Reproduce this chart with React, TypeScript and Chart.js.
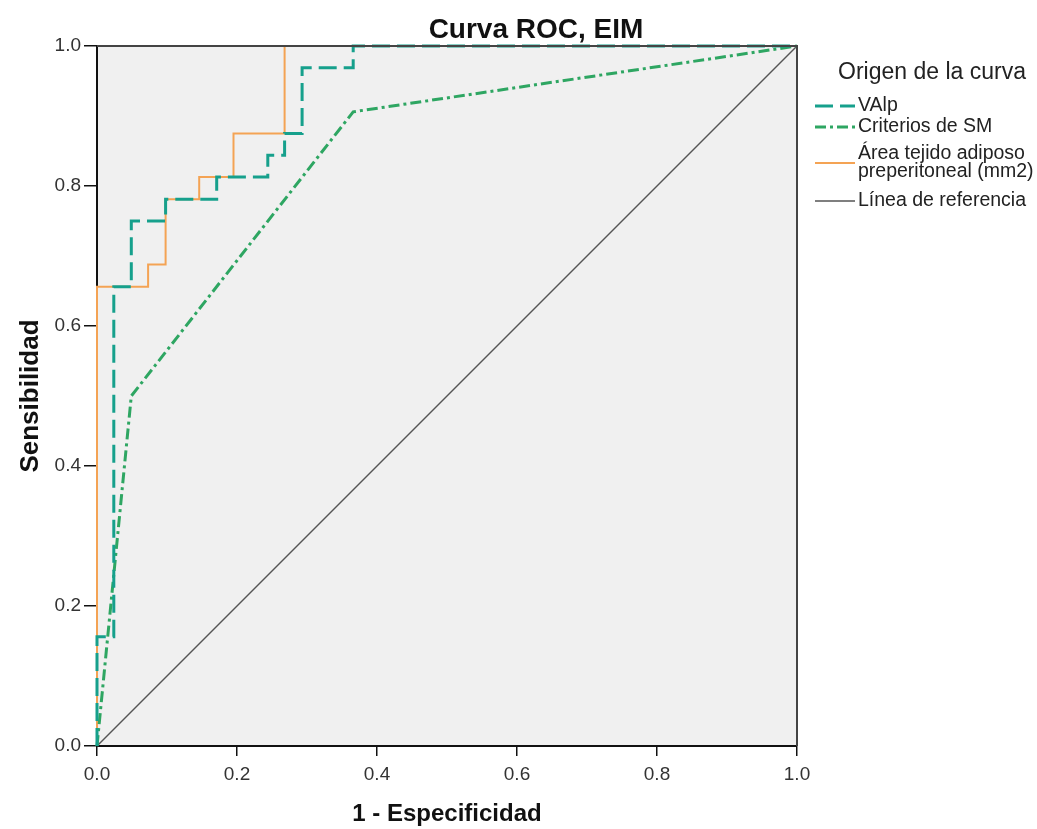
import React, { useEffect, useRef } from 'react';
import { Chart, registerables } from 'chart.js';

Chart.register(...registerables);

// ---- Data ----
const valpFpr = [0, 0, 0.024, 0.024, 0.049, 0.049, 0.098, 0.098, 0.171, 0.171, 0.244, 0.244, 0.268, 0.268, 0.293, 0.293, 0.366, 0.366, 1];
const valpSens = [0, 0.156, 0.156, 0.656, 0.656, 0.75, 0.75, 0.781, 0.781, 0.813, 0.813, 0.844, 0.844, 0.875, 0.875, 0.969, 0.969, 1, 1];

const criteriosFpr = [0, 0.049, 0.366, 1];
const criteriosSens = [0, 0.5, 0.906, 1];

const areaFpr = [0, 0, 0.073, 0.073, 0.098, 0.098, 0.146, 0.146, 0.195, 0.195, 0.268, 0.268, 1];
const areaSens = [0, 0.656, 0.656, 0.688, 0.688, 0.781, 0.781, 0.813, 0.813, 0.875, 0.875, 1, 1];

const refFpr = [0, 1];
const refSens = [0, 1];

const tickValues = [0, 0.2, 0.4, 0.6, 0.8, 1.0];

const chartTitle = 'Curva ROC, EIM';
const xTitle = '1 - Especificidad';
const yTitle = 'Sensibilidad';
const legendTitle = 'Origen de la curva';
const seriesLabels = ['VAlp', 'Criterios de SM', ['Área tejido adiposo', 'preperitoneal (mm2)'], 'Línea de referencia'];

const COLORS = {
  valp: '#16a08c',
  criterios: '#2ea662',
  area: '#f4a354',
  ref: '#555555',
};

const DASH_VALP = [18, 7];
const DASH_CRIT = [11, 4, 3, 4];

const FONT = '"Liberation Sans", Arial, sans-serif';

const toPoints = (xs: number[], ys: number[]) => xs.map((x, i) => ({ x, y: ys[i] }));

const decorPlugin = {
  id: 'decor',
  beforeDraw(chart: any) {
    const { ctx, chartArea: a, width, height } = chart;
    ctx.save();
    ctx.fillStyle = '#ffffff';
    ctx.fillRect(0, 0, width, height);
    ctx.fillStyle = '#f0f0f0';
    ctx.fillRect(a.left, a.top, a.right - a.left, a.bottom - a.top);
    ctx.restore();
  },
  afterDraw(chart: any) {
    const { ctx, chartArea: a } = chart;
    ctx.save();
    // frame top/right
    ctx.strokeStyle = '#444444';
    ctx.lineWidth = 2;
    ctx.beginPath();
    ctx.moveTo(a.left, a.top);
    ctx.lineTo(a.right, a.top);
    ctx.lineTo(a.right, a.bottom);
    ctx.stroke();

    // chart title
    ctx.fillStyle = '#111111';
    ctx.textAlign = 'center';
    ctx.textBaseline = 'middle';
    ctx.font = `bold 28px ${FONT}`;
    ctx.fillText(chartTitle, 536, 30);

    // x title
    ctx.font = `bold 24px ${FONT}`;
    ctx.fillText(xTitle, (a.left + a.right) / 2, 814);

    // y title
    ctx.save();
    ctx.font = `bold 26px ${FONT}`;
    ctx.translate(31, (a.top + a.bottom) / 2);
    ctx.rotate(-Math.PI / 2);
    ctx.fillText(yTitle, 0, 0);
    ctx.restore();

    // legend
    ctx.textAlign = 'left';
    ctx.fillStyle = '#222222';
    ctx.font = `23px ${FONT}`;
    ctx.fillText(legendTitle, 838, 73);

    ctx.font = `19.5px ${FONT}`;
    const sx0 = 815;
    const sx1 = 855;
    const tx = 858;
    const drawSample = (y: number, color: string, dash: number[], lw: number) => {
      ctx.save();
      ctx.strokeStyle = color;
      ctx.lineWidth = lw;
      ctx.setLineDash(dash);
      ctx.beginPath();
      ctx.moveTo(sx0, y);
      ctx.lineTo(sx1, y);
      ctx.stroke();
      ctx.restore();
    };
    drawSample(106, COLORS.valp, DASH_VALP, 3);
    ctx.fillText(seriesLabels[0] as string, tx, 106);
    drawSample(127, COLORS.criterios, DASH_CRIT, 3);
    ctx.fillText(seriesLabels[1] as string, tx, 127);
    drawSample(163, COLORS.area, [], 2);
    const areaLines = seriesLabels[2] as string[];
    ctx.fillText(areaLines[0], tx, 154);
    ctx.fillText(areaLines[1], tx, 172);
    drawSample(201, COLORS.ref, [], 1.5);
    ctx.fillText(seriesLabels[3] as string, tx, 201);
    ctx.restore();
  },
};

export default function App() {
  const canvasRef = useRef<HTMLCanvasElement | null>(null);

  useEffect(() => {
    if (!canvasRef.current) return;
    const chart = new Chart(canvasRef.current, {
      type: 'scatter',
      data: {
        datasets: [
          {
            label: 'VAlp',
            data: toPoints(valpFpr, valpSens),
            showLine: true,
            borderColor: COLORS.valp,
            borderWidth: 3,
            borderDash: DASH_VALP,
            pointRadius: 0,
            tension: 0,
            clip: 6,
          },
          {
            label: 'Criterios de SM',
            data: toPoints(criteriosFpr, criteriosSens),
            showLine: true,
            borderColor: COLORS.criterios,
            borderWidth: 3,
            borderDash: DASH_CRIT,
            pointRadius: 0,
            tension: 0,
            clip: 6,
          },
          {
            label: 'Área tejido adiposo preperitoneal (mm2)',
            data: toPoints(areaFpr, areaSens),
            showLine: true,
            borderColor: COLORS.area,
            borderWidth: 2,
            pointRadius: 0,
            tension: 0,
            clip: 6,
          },
          {
            label: 'Línea de referencia',
            data: toPoints(refFpr, refSens),
            showLine: true,
            borderColor: COLORS.ref,
            borderWidth: 1.5,
            pointRadius: 0,
            tension: 0,
            clip: 6,
          },
        ],
      },
      options: {
        animation: false,
        responsive: true,
        maintainAspectRatio: false,
        layout: { padding: { top: 46, right: 240, bottom: 0, left: 0 } },
        plugins: {
          legend: { display: false },
          title: { display: false },
          tooltip: { enabled: false },
        },
        scales: {
          x: {
            type: 'linear',
            min: 0,
            max: 1,
            afterBuildTicks: (s: any) => {
              s.ticks = tickValues.map((v) => ({ value: v }));
            },
            afterFit: (s: any) => {
              s.height = 83;
            },
            ticks: {
              callback: (v: any) => Number(v).toFixed(1),
              font: { family: FONT, size: 19 },
              color: '#333333',
              padding: 7,
              maxRotation: 0,
            },
            grid: { drawOnChartArea: false, drawTicks: true, tickLength: 10, color: '#111111', lineWidth: 1.5 },
            border: { display: true, color: '#111111', width: 2 },
          },
          y: {
            type: 'linear',
            min: 0,
            max: 1,
            afterBuildTicks: (s: any) => {
              s.ticks = tickValues.map((v) => ({ value: v }));
            },
            afterFit: (s: any) => {
              s.width = 97;
            },
            ticks: {
              callback: (v: any) => Number(v).toFixed(1),
              font: { family: FONT, size: 19 },
              color: '#333333',
              padding: 3,
            },
            grid: { drawOnChartArea: false, drawTicks: true, tickLength: 13, color: '#111111', lineWidth: 1.5 },
            border: { display: true, color: '#111111', width: 2 },
          },
        },
      },
      plugins: [decorPlugin],
    } as any);
    return () => chart.destroy();
  }, []);

  return (
    <div style={{ position: 'fixed', left: 0, top: 0, width: 1037, height: 829, background: '#fff' }}>
      <canvas ref={canvasRef} />
    </div>
  );
}
